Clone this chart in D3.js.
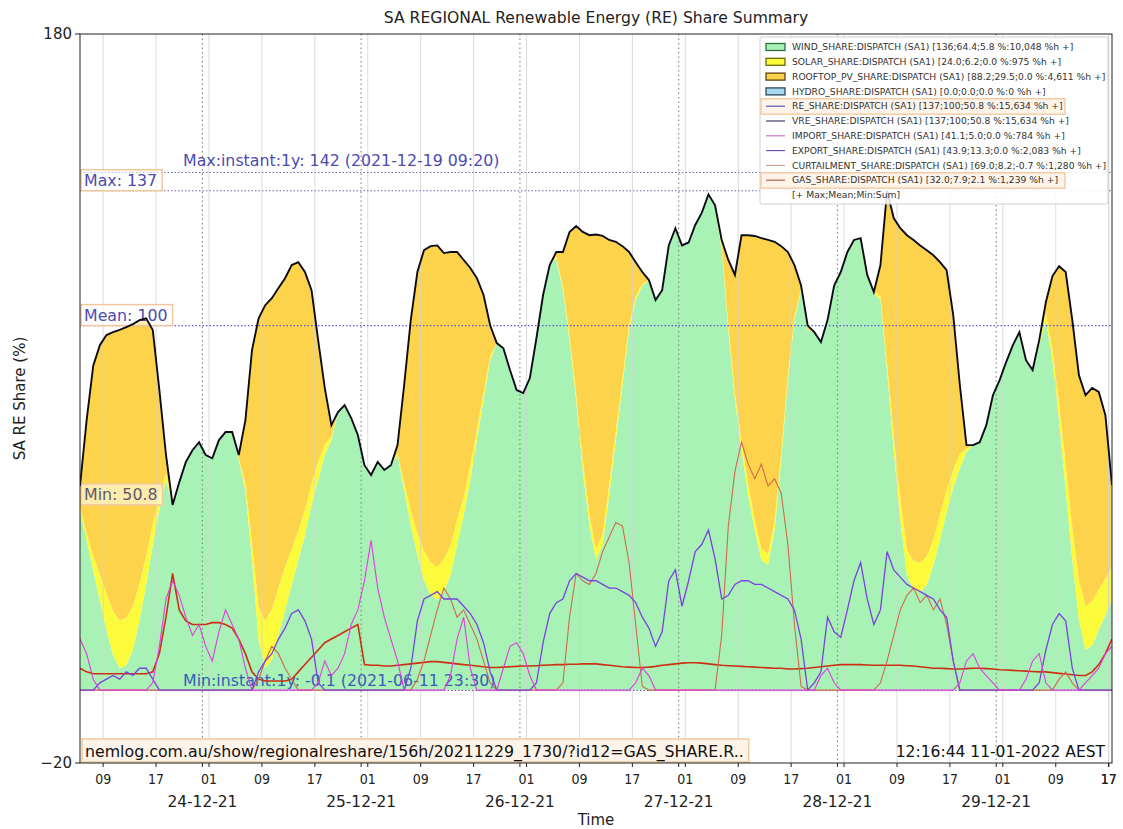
<!DOCTYPE html>
<html>
<head>
<meta charset="utf-8">
<script src="https://cdn.jsdelivr.net/npm/d3@7"></script>
<style>
  body { margin: 0; background: #fff; }
  svg { display: block; }
  text { font-family: "DejaVu Sans", sans-serif; }
  .hr { font-family: "DejaVu Sans Condensed", "DejaVu Sans", sans-serif; font-stretch: condensed; }
</style>
</head>
<body>
<svg id="chart" width="1123" height="829"></svg>
<script>
// Hourly samples of SA1 dispatch shares (%), starting 23-12-2021 05:30 AEST (156 h window)
const startUtc = Date.UTC(2021, 11, 23, 5, 30); // wall-clock AEST held as UTC
const windowHours = 156;

const reShare = [56,74,89,94.6,97.4,98.2,98.8,99.6,100.4,101.5,102,98.8,82.3,64.5,50.8,57,62.6,65.8,68,64.5,63.6,68.6,70.8,70.8,
  64.5,74,93.3,102,105.6,107.5,110.3,113,116.6,117.4,114.7,109.7,96,82.9,72.7,76.3,78.2,74.6,70,61.7,59,62.6,60.4,61.7,
  67.2,83.7,101.5,114.7,120.7,121.8,122,119.9,120.2,120.2,118,115.8,113,108.4,100.1,95.2,93.8,87.8,82.3,81.5,85.6,96.6,108.4,116.6,
  120.2,120.2,125.7,127.3,125.7,124.8,125,124.6,123.5,123,121.8,120.2,117.4,114.7,112.5,107,109.7,122,126.7,122,122.8,127.6,131,136,
  133,123.5,118,113.9,124.8,124.8,124.6,124,123.5,123,121.8,120.2,116.6,111,100,98.2,95.5,101.5,111,114.7,120.2,123.5,124,113.9,
  109.2,116.6,137,129.5,126.7,124.8,123.5,122,120.7,119.3,117.4,115.2,102.9,83.7,67.2,67.2,68,72.7,80.9,85,90,94.6,98.2,90.5,
  87.8,96,106.4,113.6,116.3,114.7,101.5,86.4,80.9,82.9,81.8,75.4,56.2];

const windShare = [49.4,41.2,32.9,24.7,16.5,9.6,6,6.9,11,19.2,28.8,39.8,49.4,57.6,50.8,57,62.6,65.8,68,64.5,63.6,68.6,70.8,70.8,
  63.1,54.9,35.7,13.7,6,8.2,15.1,21.9,28.8,35.7,42.5,50.8,57.6,64.5,68.6,76.3,78.2,74.6,70,61.7,59,62.6,60.4,61.7,
  64.5,54.9,45.3,37,30.2,26.1,24.8,26.9,31.6,39.8,48,57.6,68.6,79.6,90.5,95.2,93.8,87.8,82.3,81.5,85.6,96.6,108.4,116.6,
  118.5,109.7,96,79.6,60.4,45.3,35.7,39.8,53.5,68.6,83.7,98.8,107,111,112.3,107,109.7,122,126.7,122,122.8,127.6,131,136,
  132.7,120.7,98.8,79.6,65.8,53.5,43.9,35.7,34.3,43.9,63.1,85,101.5,109.7,98.8,98.2,95.5,101.5,111,114.7,120.2,123.5,124,113.9,
  108.9,107,87.8,65.8,46.6,31.6,27.4,26.9,28.8,34.3,41.2,48.8,55.4,60.9,65.3,67.2,68,72.7,80.9,85,90,94.6,98.2,90.5,
  87.5,94.6,101.5,90.5,74,54.9,35.7,19.2,11,12.3,16.5,20.6,24.7];

const solarShare = [0.5,2,4,7,10,12,13,13,12,10,8,6,4,2,0,0,0,0,0,0,0,0,0,0,
  0.5,2,5,9,13,14,13,12,10,8,7,6,5,3,1,0,0,0,0,0,0,0,0,0,
  0.5,2,4,6,8,9,9,9,8,7,5,4,3,2,1,0,0,0,0,0,0,0,0,0,
  0.5,1,1.5,2,2.5,3,3,3,3,2.5,2,1.5,1,0.5,0.2,0,0,0,0,0,0,0,0,0,
  0.3,1,1.5,2,2.5,3,3,3,3,2.5,2,1.5,1,0.5,0.2,0,0,0,0,0,0,0,0,0,
  0.3,1,2,4,6,7,8,8,8,7,7,6,5,4,1,0,0,0,0,0,0,0,0,0,
  0.3,1,2,3,5,7,9,11,12,12,11,10,9];

const rooftopShare = [6.1,30.8,52.1,62.9,70.9,76.6,79.8,79.7,77.4,72.3,65.2,53,28.9,4.9,0,0,0,0,0,0,0,0,0,0,
  0.9,17.1,52.6,79.3,86.6,85.3,82.2,79.1,77.8,73.7,65.2,52.9,33.4,15.4,3.1,0,0,0,0,0,0,0,0,0,
  2.2,26.8,52.2,71.7,82.5,86.7,88.2,84,80.6,73.4,65,54.2,41.4,26.8,8.6,0,0,0,0,0,0,0,0,0,
  1.2,9.5,28.2,45.7,62.8,76.5,86.3,81.8,67,51.9,36.1,19.9,9.4,3.2,0,0,0,0,0,0,0,0,0,0,
  0,1.8,17.7,32.3,56.5,68.3,77.7,85.3,86.2,76.6,56.7,33.7,14.1,0.8,1,0,0,0,0,0,0,0,0,0,
  0,8.6,47.2,59.7,74.1,86.2,88.1,87.1,83.9,78,69.2,60.4,42.5,18.8,0.9,0,0,0,0,0,0,0,0,0,
  0,0.4,2.9,20.1,37.3,52.8,56.8,56.2,57.9,58.6,54.3,44.8,22.5];

const hydroShare = reShare.map(() => 0);

const importShare = [14,10,3,0,0,0,0,0,0,0,0,2,12,25,30,26,20,15,18,12,8,16,22,18,
  14,6,0,0,0,0,0,0,0,0,0,0,2,8,4,6,10,18,22,30,41.1,28,20,14,
  8,0,0,0,0,0,0,0,4,14,20,6,0,0,0,0,6,12,13,10,4,0,0,0,
  0,0,0,0,0,0,0,0,0,0,0,0,2,6,4,0,0,0,0,0,0,0,0,0,
  0,0,0,0,0,0,0,0,0,0,0,0,0,0,0,0,4,6,2,0,0,0,0,0,
  0,0,0,0,0,0,0,0,0,0,0,0,0,2,8,10,6,4,2,0,0,0,0,3,
  8,10,2,0,0,0,0,0,2,4,6,10,12];

const exportShare = [0,0,0,2,3,4,3,5,4,6,6,3,0,0,0,0,0,0,0,0,0,0,0,0,
  0,0,0,5,8,10,14,17,21,22,19,14,2,0,0,0,0,0,0,0,0,0,0,0,
  0,0,6,19,25,26,27,25,25,25,23,21,18,13,5,0,0,0,0,0,0,2,13,21,
  24,25,30,32,31,30,30,29,28,28,27,26,24,20,17,12,16,30,33,23,30,38,40,43.9,
  36,25,26,29,30,30,29,29,28,27,26,25,22,14,0,2,5,20,16,14.5,22,30,35,25,
  18,22,38,33,31,29,28,27,26,25,22,20,8,0,0,0,0,0,0,0,0,0,0,0,
  0,2,11,18,21,19,6,0,0,0,0,0,0];

const curtailmentShare = [0,0,0,0,0,0,0,0,0,0,0,0,0,0,0,0,0,0,0,0,0,0,0,0,
  0,0,0,3,8,12,10,6,3,0,0,0,0,0,0,0,0,0,0,0,0,0,0,0,
  0,0,0,3,8,15,22,28,25,20,22,18,14,8,2,0,0,0,0,0,0,0,0,0,
  0,2,20,32,30,29,32,38,42,46,45,35,18,1,0,0,0,0,0,0,0,0,0,0,
  0,15,45,60,68,62,58,62,56,58,54,40,18,1,0,0,0,0,0,0,0,0,0,0,
  0,2,8,15,22,26,28,24,26,22,25,18,8,0,0,0,0,0,0,0,0,0,0,0,
  0,0,0,0,3,5,2,0,0,0,0,0,0];

const gasShare = [6,5,4.5,4.5,4.5,4.5,4.5,4.5,4.5,4.5,4.5,5,10,20,32,22,19,18,18,18,18.5,18.5,18,17,
  14,10,5,3,2.5,2.5,2.5,2.5,3,5,7,9,11,13,14,15,16,17,18,7,6.8,6.8,6.6,6.6,
  6.8,7,7.2,7.4,7.6,7.8,7.8,7.6,7.4,7.2,7,6.8,6.6,6.4,6.2,6.2,6.3,6.4,6.5,6.6,6.6,6.7,6.8,6.9,
  7,7,7.1,7.1,7.2,7.2,7.2,7,6.8,6.6,6.4,6.3,6.2,6.2,6.3,6.5,6.8,7,7.2,7.4,7.5,7.5,7.4,7.2,
  7,6.8,6.7,6.6,6.5,6.4,6.3,6.2,6.1,6,6,5.8,5.8,5.9,6,6.2,6.4,6.6,6.8,7,7,7,7,6.9,
  6.8,6.8,6.8,6.8,6.8,6.7,6.6,6.4,6.2,6,6,5.9,5.8,5.8,5.9,6,6,5.9,5.8,5.6,5.5,5.4,5.3,5.2,
  5.1,5,5,4.8,4.6,4.4,4.2,4,4,5,7,10,14];

// Summary statistics shown as reference lines
const stats = { maxInstant: 142, max: 137, mean: 100, min: 50.8, minInstant: -0.1 };

const legendLabels = [
  "WIND_SHARE:DISPATCH (SA1) [136;64.4;5.8 %:10,048 %h +]",
  "SOLAR_SHARE:DISPATCH (SA1) [24.0;6.2;0.0 %:975 %h +]",
  "ROOFTOP_PV_SHARE:DISPATCH (SA1) [88.2;29.5;0.0 %:4,611 %h +]",
  "HYDRO_SHARE:DISPATCH (SA1) [0.0;0.0;0.0 %:0 %h +]",
  "RE_SHARE:DISPATCH (SA1) [137;100;50.8 %:15,634 %h +]",
  "VRE_SHARE:DISPATCH (SA1) [137;100;50.8 %:15,634 %h +]",
  "IMPORT_SHARE:DISPATCH (SA1) [41.1;5.0;0.0 %:784 %h +]",
  "EXPORT_SHARE:DISPATCH (SA1) [43.9;13.3;0.0 %:2,083 %h +]",
  "CURTAILMENT_SHARE:DISPATCH (SA1) [69.0;8.2;-0.7 %:1,280 %h +]",
  "GAS_SHARE:DISPATCH (SA1) [32.0;7.9;2.1 %:1,239 %h +]"
];

const yTickValues = [180, -20];

// ---------------------------------------------------------------
const svg = d3.select("#chart");
const plot = { left: 80, right: 1112, top: 34, bottom: 763 };

const x = d3.scaleUtc()
  .domain([new Date(startUtc), new Date(startUtc + windowHours * 3600e3)])
  .range([plot.left, plot.right]);
const y = d3.scaleLinear().domain([-20, 180]).range([plot.bottom, plot.top]);

const rows = reShare.map((v, i) => ({
  t: new Date(startUtc + i * 3600e3),
  re: v, wind: windShare[i], solar: solarShare[i], rooftop: rooftopShare[i], hydro: hydroShare[i],
  imp: importShare[i], exp: exportShare[i], curt: curtailmentShare[i], gas: gasShare[i]
}));

const colors = {
  wind: "#a9f2b6", solar: "#fbfb3c", rooftop: "#fdd34c", hydro: "#a8d8ee",
  re: "#0c0c18", imp: "#e03ce0", exp: "#7a42e0", curt: "#d06a4c", gas: "#cc3014"
};

svg.append("defs").append("clipPath").attr("id", "plotClip")
  .append("rect").attr("x", plot.left).attr("y", plot.top)
  .attr("width", plot.right - plot.left).attr("height", plot.bottom - plot.top);

const g = svg.append("g").attr("clip-path", "url(#plotClip)");

// Stacked renewable shares
const stack = d3.stack().keys(["wind", "solar", "rooftop", "hydro"]);
const layers = stack(rows);
const area = d3.area()
  .x(d => x(d.data.t))
  .y0(d => y(d[0]))
  .y1(d => y(d[1]));
g.selectAll("path.layer").data(layers).join("path")
  .attr("class", "layer")
  .attr("fill", d => colors[d.key])
  .attr("d", area);

// Minor (01/09/17) and major (midnight) vertical grid lines
const minorTicks = d3.utcHour.every(1).range(x.domain()[0], x.domain()[1])
  .filter(d => d.getUTCHours() % 8 === 1);
minorTicks.push(new Date(Date.UTC(2021, 11, 29, 17)));
const majorTicks = d3.utcDay.range(x.domain()[0], x.domain()[1]);

g.selectAll("line.gminor").data(minorTicks).join("line")
  .attr("x1", d => x(d)).attr("x2", d => x(d))
  .attr("y1", plot.top).attr("y2", plot.bottom)
  .attr("stroke", "#d2d2d2").attr("stroke-opacity", 0.8).attr("stroke-width", 1);
g.selectAll("line.gmajor").data(majorTicks).join("line")
  .attr("x1", d => x(d)).attr("x2", d => x(d))
  .attr("y1", plot.top).attr("y2", plot.bottom)
  .attr("stroke", "#8a8a8a").attr("stroke-width", 1.2).attr("stroke-dasharray", "1.5,3");

// Statistic reference lines
const statLine = (v, color) => g.append("line")
  .attr("x1", plot.left).attr("x2", plot.right)
  .attr("y1", y(v)).attr("y2", y(v))
  .attr("stroke", color).attr("stroke-width", 1.1).attr("stroke-dasharray", "1.5,2");
statLine(stats.maxInstant, "#6a6ab8");
statLine(stats.max, "#6a6ab8");
statLine(stats.mean, "#5a5ad0");
statLine(stats.minInstant, "#8a3cc8");

// Statistic annotations (beneath the share lines)
const ann = g.append("g");
const boxLabel = (txt, v, color) => {
  const t = ann.append("text").attr("x", plot.left + 4).attr("y", y(v) - 5)
    .attr("font-size", 15.8).attr("fill", color).text(txt);
  const bb = t.node().getBBox();
  ann.insert("rect", () => t.node())
    .attr("x", plot.left + 1).attr("y", bb.y - 1).attr("width", bb.width + 8).attr("height", bb.height + 2)
    .attr("fill", "#fff").attr("fill-opacity", 0.55)
    .attr("stroke", "#f2c79c").attr("stroke-width", 1.5);
};
boxLabel("Max: 137", stats.max, "#4b4bb0");
boxLabel("Mean: 100", stats.mean, "#4b4bb0");
boxLabel("Min: 50.8", stats.min, "#5c5a66");
ann.append("text").attr("x", 183).attr("y", y(stats.maxInstant) - 7)
  .attr("font-size", 15.8).attr("fill", "#4b4bb0").text("Max:instant:1y: 142 (2021-12-19 09:20)");
ann.append("text").attr("x", 183).attr("y", y(stats.minInstant) - 4)
  .attr("font-size", 15.8).attr("fill", "#3b5bb8").text("Min:instant:1y: -0.1 (2021-06-11 23:30)");

// Share lines
const line = key => d3.line().x(d => x(d.t)).y(d => y(d[key]));
[["gas", 1.6], ["curt", 1.1], ["exp", 1.3], ["imp", 1.1]].forEach(([k, w]) => {
  g.append("path").datum(rows).attr("fill", "none")
    .attr("stroke", colors[k]).attr("stroke-width", w).attr("d", line(k));
});
g.append("path").datum(rows).attr("fill", "none")
  .attr("stroke", colors.re).attr("stroke-width", 1.9).attr("d", line("re"));

// Footer source and timestamp
const foot = svg.append("g");
const src = foot.append("text").attr("x", 85).attr("y", 757)
  .attr("font-size", 15.8).attr("fill", "#111")
  .text("nemlog.com.au/show/regionalreshare/156h/20211229_1730/?id12=GAS_SHARE.R..");
const sb = src.node().getBBox();
foot.insert("rect", () => src.node())
  .attr("x", plot.left + 2).attr("y", 739).attr("width", sb.width + 8).attr("height", 23)
  .attr("fill", "#fdf3e8").attr("stroke", "#f2c79c").attr("stroke-width", 1.5);
foot.append("text").attr("x", 1105).attr("y", 757).attr("text-anchor", "end")
  .attr("font-size", 15.5).attr("fill", "#111").text("12:16:44 11-01-2022 AEST");

// Frame
svg.append("rect").attr("x", plot.left).attr("y", plot.top)
  .attr("width", plot.right - plot.left).attr("height", plot.bottom - plot.top)
  .attr("fill", "none").attr("stroke", "#222").attr("stroke-width", 1);

// X axis ticks and labels
const xa = svg.append("g");
xa.selectAll("line.tminor").data(minorTicks).join("line")
  .attr("x1", d => x(d)).attr("x2", d => x(d))
  .attr("y1", plot.bottom).attr("y2", plot.bottom + 4).attr("stroke", "#222");
xa.selectAll("line.tmajor").data(majorTicks).join("line")
  .attr("x1", d => x(d)).attr("x2", d => x(d))
  .attr("y1", plot.bottom).attr("y2", plot.bottom + 4).attr("stroke", "#222");
xa.selectAll("text.hr").data(minorTicks).join("text")
  .attr("class", "hr")
  .attr("x", d => x(d)).attr("y", plot.bottom + 21)
  .attr("text-anchor", "middle").attr("font-size", 14).attr("fill", "#222")
  .text(d3.utcFormat("%H"));
xa.selectAll("text.day").data(majorTicks).join("text")
  .attr("x", d => x(d)).attr("y", plot.bottom + 44)
  .attr("text-anchor", "middle").attr("font-size", 15.4).attr("fill", "#222")
  .text(d3.utcFormat("%d-%m-%y"));

// Y axis ticks
const ya = svg.append("g");
ya.selectAll("line").data(yTickValues).join("line")
  .attr("x1", plot.left - 5).attr("x2", plot.left)
  .attr("y1", d => y(d)).attr("y2", d => y(d)).attr("stroke", "#222");
ya.selectAll("text").data(yTickValues).join("text")
  .attr("x", plot.left - 8).attr("y", d => y(d) + 5)
  .attr("text-anchor", "end").attr("font-size", 15).attr("fill", "#222")
  .text(d => d < 0 ? "\u2212" + Math.abs(d) : d);

// Titles
svg.append("text").attr("x", (plot.left + plot.right) / 2).attr("y", 23)
  .attr("text-anchor", "middle").attr("font-size", 15.6).attr("fill", "#222")
  .text("SA REGIONAL Renewable Energy (RE) Share Summary");
svg.append("text").attr("x", (plot.left + plot.right) / 2).attr("y", 825)
  .attr("text-anchor", "middle").attr("font-size", 15).attr("fill", "#222").text("Time");
svg.append("text").attr("transform", `translate(25,${(plot.top + plot.bottom) / 2}) rotate(-90)`)
  .attr("text-anchor", "middle").attr("font-size", 15).attr("fill", "#222").text("SA RE Share (%)");

// Legend
const lg = svg.append("g");
const lgX = 760, lgY = 37, rowH = 14.8;
lg.append("rect").attr("x", lgX).attr("y", lgY).attr("width", 348).attr("height", 167)
  .attr("rx", 2).attr("fill", "#fff").attr("fill-opacity", 0.85)
  .attr("stroke", "#cfcfcf").attr("stroke-width", 1);
const handles = [
  { type: "patch", fill: colors.wind, edge: "#2f6f3e" },
  { type: "patch", fill: colors.solar, edge: "#6a6a10" },
  { type: "patch", fill: colors.rooftop, edge: "#5a4410" },
  { type: "patch", fill: colors.hydro, edge: "#2a4a5a" },
  { type: "line", color: "#4a4aa8", hl: true },
  { type: "line", color: "#2a2a5a" },
  { type: "line", color: "#c466c4" },
  { type: "line", color: "#6448a8" },
  { type: "line", color: "#c09a8a" },
  { type: "line", color: "#a85a4a", hl: true }
];
handles.forEach((h, i) => {
  const cy = lgY + 10 + i * rowH;
  if (h.hl) {
    lg.append("rect").attr("x", lgX + 1).attr("y", cy - 7.5).attr("width", 304).attr("height", 15.5)
      .attr("fill", "#fdf3e8").attr("stroke", "#f2c79c").attr("stroke-width", 1.3);
  }
  if (h.type === "patch") {
    lg.append("rect").attr("x", lgX + 6).attr("y", cy - 3.5).attr("width", 19).attr("height", 7)
      .attr("fill", h.fill).attr("stroke", h.edge).attr("stroke-width", 1.3);
  } else {
    lg.append("line").attr("x1", lgX + 6).attr("x2", lgX + 25).attr("y1", cy).attr("y2", cy)
      .attr("stroke", h.color).attr("stroke-width", 1.1);
  }
  lg.append("text").attr("x", lgX + 32).attr("y", cy + 3.2)
    .attr("font-size", 9.2).attr("fill", "#333").text(legendLabels[i]);
});
lg.append("text").attr("x", lgX + 32).attr("y", lgY + 10 + 10 * rowH + 3.2)
  .attr("font-size", 9.2).attr("fill", "#333").text("[+ Max;Mean;Min:Sum]");
</script>
</body>
</html>
